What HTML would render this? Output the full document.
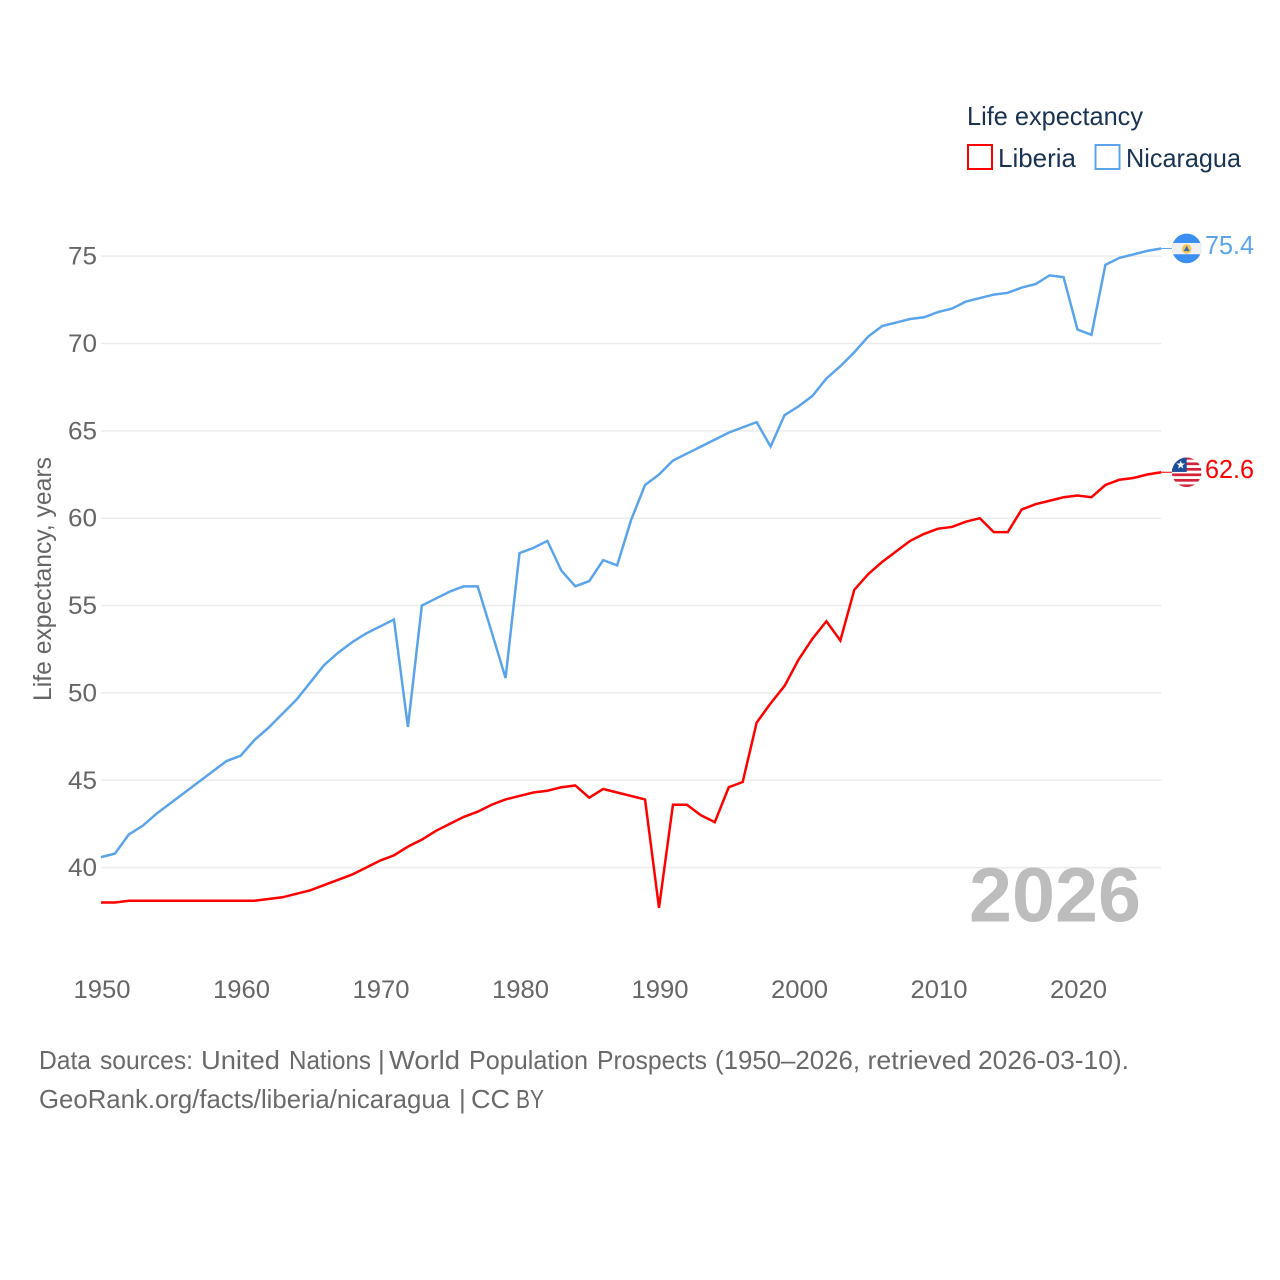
<!DOCTYPE html>
<html lang="en">
<head>
<meta charset="utf-8">
<title>Life expectancy: Liberia and Nicaragua</title>
<style>
html,body{margin:0;padding:0;background:#fff;}
svg{display:block;}
text{font-family:"Liberation Sans",sans-serif;}
</style>
</head>
<body>
<svg id="chart" xmlns="http://www.w3.org/2000/svg" width="1280" height="1280" viewBox="0 0 1280 1280">
  <rect width="1280" height="1280" fill="#ffffff"/>
  <g id="grid"></g>
  <g id="yticks"></g>
  <g id="xticks"></g>
  <text transform="translate(51,701) rotate(-90)" font-size="25" fill="#666666" textLength="244" lengthAdjust="spacingAndGlyphs">Life expectancy, years</text>
  <text x="969" y="921.500" font-size="77" font-weight="700" fill="#bdbdbd" textLength="172" lengthAdjust="spacingAndGlyphs">2026</text>
  <g id="series"></g>

  <defs>
    <clipPath id="clip-nic"><circle cx="1186.700" cy="248.500" r="14.800"/></clipPath>
    <clipPath id="clip-lib"><circle cx="1186.700" cy="472.300" r="14.800"/></clipPath>
  </defs>
  <g id="flag-nicaragua">
    <g clip-path="url(#clip-nic)">
      <rect x="1171" y="233" width="32" height="32" fill="#3a8ff0"/>
      <rect x="1171" y="243" width="32" height="11.300" fill="#f1f1f1"/>
      <circle cx="1186.700" cy="249" r="4.800" fill="#f2c65a"/>
      <polygon points="1186.700,245.800 1189.700,251.200 1183.700,251.200" fill="#3a6ea8"/>
    </g>
  </g>
  <g id="flag-liberia">
    <g clip-path="url(#clip-lib)">
      <rect x="1171" y="457" width="32" height="32" fill="#ffffff"/>
      <rect x="1171" y="457" width="32" height="2.700" fill="#d5213c"/>
      <rect x="1171" y="462.500" width="32" height="2.700" fill="#d5213c"/>
      <rect x="1171" y="468" width="32" height="2.700" fill="#d5213c"/>
      <rect x="1171" y="473.500" width="32" height="2.700" fill="#d5213c"/>
      <rect x="1171" y="479" width="32" height="2.700" fill="#d5213c"/>
      <rect x="1171" y="484.500" width="32" height="2.700" fill="#d5213c"/>
      <rect x="1171" y="457" width="15.700" height="15" fill="#1c4f9c"/>
      <polygon points="1180.700,460.500 1181.760,463.540 1184.980,463.610 1182.410,465.560 1183.350,468.640 1180.700,466.800 1178.050,468.640 1178.990,465.560 1176.420,463.610 1179.640,463.540" fill="#ffffff"/>
    </g>
  </g>
  <text id="label-nic" x="1205" y="254" font-size="26" fill="#5ba4ec" textLength="49" lengthAdjust="spacingAndGlyphs"></text>
  <text id="label-lib" x="1205" y="478" font-size="26" fill="#ff0000" textLength="49" lengthAdjust="spacingAndGlyphs"></text>

  <g>
    <text x="967" y="125" font-size="26" fill="#1a3353" textLength="176" lengthAdjust="spacingAndGlyphs">Life expectancy</text>
    <rect x="968" y="145" width="24" height="24" fill="#ffffff" stroke="#ff0000" stroke-width="2"/>
    <text x="998" y="167" font-size="26" fill="#1a3353" textLength="78" lengthAdjust="spacingAndGlyphs">Liberia</text>
    <rect x="1095.500" y="145" width="24" height="24" fill="#ffffff" stroke="#5ba4ec" stroke-width="2"/>
    <text x="1126" y="167" font-size="26" fill="#1a3353" textLength="115" lengthAdjust="spacingAndGlyphs">Nicaragua</text>
  </g>

  <g font-size="26" fill="#6a6a6a">
    <text x="39" y="1069" textLength="52" lengthAdjust="spacingAndGlyphs">Data</text>
    <text x="100" y="1069" textLength="93" lengthAdjust="spacingAndGlyphs">sources:</text>
    <text x="201" y="1069" textLength="79" lengthAdjust="spacingAndGlyphs">United</text>
    <text x="289" y="1069" textLength="82" lengthAdjust="spacingAndGlyphs">Nations</text>
    <text x="378" y="1069">|</text>
    <text x="389" y="1069" textLength="71" lengthAdjust="spacingAndGlyphs">World</text>
    <text x="469" y="1069" textLength="119" lengthAdjust="spacingAndGlyphs">Population</text>
    <text x="597" y="1069" textLength="110" lengthAdjust="spacingAndGlyphs">Prospects</text>
    <text x="715" y="1069" textLength="145" lengthAdjust="spacingAndGlyphs">(1950–2026,</text>
    <text x="867.500" y="1069" textLength="104" lengthAdjust="spacingAndGlyphs">retrieved</text>
    <text x="978" y="1069" textLength="151" lengthAdjust="spacingAndGlyphs">2026-03-10).</text>
  </g>
  <g font-size="26" fill="#6a6a6a">
    <text x="39" y="1108" textLength="411" lengthAdjust="spacingAndGlyphs">GeoRank.org/facts/liberia/nicaragua</text>
    <text x="459" y="1108">|</text>
    <text x="471" y="1108" textLength="39" lengthAdjust="spacingAndGlyphs">CC</text>
    <text x="516" y="1108" textLength="28" lengthAdjust="spacingAndGlyphs">BY</text>
  </g>
</svg>
<script>
const startYear = 1950;
const yTickValues = [40, 45, 50, 55, 60, 65, 70, 75];
const xTickValues = [1950, 1960, 1970, 1980, 1990, 2000, 2010, 2020];
const liberiaValues = [38.0,38.0,38.1,38.1,38.1,38.1,38.1,38.1,38.1,38.1,38.1,38.1,38.2,38.3,38.5,38.7,39.0,39.3,39.6,40.0,40.4,40.7,41.2,41.6,42.1,42.5,42.9,43.2,43.6,43.9,44.1,44.3,44.4,44.6,44.7,44.0,44.5,44.3,44.1,43.9,37.7,43.6,43.6,43.0,42.6,44.6,44.9,48.3,49.4,50.4,51.9,53.1,54.1,53.0,55.9,56.8,57.5,58.1,58.7,59.1,59.4,59.5,59.8,60.0,59.2,59.2,60.5,60.8,61.0,61.2,61.3,61.2,61.9,62.2,62.3,62.5,62.63];
const nicaraguaValues = [40.6,40.8,41.9,42.4,43.1,43.7,44.3,44.9,45.5,46.1,46.4,47.3,48.0,48.8,49.6,50.6,51.6,52.3,52.9,53.4,53.8,54.2,48.05,55.0,55.4,55.8,56.1,56.1,53.5,50.85,58.0,58.3,58.7,57.0,56.1,56.4,57.6,57.3,59.9,61.9,62.5,63.3,63.7,64.1,64.5,64.9,65.2,65.5,64.1,65.9,66.4,67.0,68.0,68.7,69.5,70.4,71.0,71.2,71.4,71.5,71.8,72.0,72.4,72.6,72.8,72.9,73.2,73.4,73.9,73.8,70.8,70.5,74.5,74.9,75.1,75.3,75.44];

const NS = 'http://www.w3.org/2000/svg';
const plotLeft = 101, plotRight = 1161.2;
function xScale(year) { return plotLeft + (year - startYear) * 13.95; }
function yScale(v) { return 867.6 - (v - 40) * 17.47; }

function make(tag, attrs, parent, txt) {
  const el = document.createElementNS(NS, tag);
  for (const k in attrs) el.setAttribute(k, attrs[k]);
  if (txt !== undefined) el.textContent = txt;
  parent.appendChild(el);
  return el;
}

const gridG = document.getElementById('grid');
const yG = document.getElementById('yticks');
yTickValues.forEach(function (v) {
  const line = make('line', {x1: plotLeft, x2: plotRight, y1: yScale(v), y2: yScale(v), stroke: '#ececec', 'stroke-width': 1.5}, gridG);
  
  
  const t = make('text', {x: 97, y: yScale(v) + 8.5, 'font-size': 25, fill: '#666666', 'text-anchor': 'end', textLength: 29, lengthAdjust: 'spacingAndGlyphs'}, yG, String(v));
  
  
});

const xG = document.getElementById('xticks');
xTickValues.forEach(function (yr) {
  const t = make('text', {x: xScale(yr) + 1, y: 998, 'font-size': 25, fill: '#666666', 'text-anchor': 'middle', textLength: 57, lengthAdjust: 'spacingAndGlyphs'}, xG, String(yr));
  
  
});

function linePoints(values) {
  return values.map(function (v, i) { return xScale(startYear + i).toFixed(2) + ',' + yScale(v).toFixed(2); }).join(' ');
}

const seriesG = document.getElementById('series');
const libLine = make('polyline', {points: linePoints(liberiaValues), fill: 'none', stroke: '#ff0000', 'stroke-width': 2.5, 'stroke-linejoin': 'miter'}, seriesG);


const nicLine = make('polyline', {points: linePoints(nicaraguaValues), fill: 'none', stroke: '#5ba4ec', 'stroke-width': 2.5, 'stroke-linejoin': 'miter'}, seriesG);



function placeEnd(values, color, labelId, flagId, baseY) {
  const v = values[values.length - 1];
  const y = yScale(v);
  const conn = make('line', {x1: plotRight, x2: 1172, y1: y, y2: y, stroke: color, 'stroke-width': 1}, seriesG);
  
  
  const label = document.getElementById(labelId);
  label.textContent = v.toFixed(1);
  label.setAttribute('y', (y + 5.5).toFixed(2));
  document.getElementById(flagId).setAttribute('transform', 'translate(0,' + (y - baseY).toFixed(2) + ')');
}
placeEnd(nicaraguaValues, '#5ba4ec', 'label-nic', 'flag-nicaragua', 248.5);
placeEnd(liberiaValues, '#ff0000', 'label-lib', 'flag-liberia', 472.3);
</script>
</body>
</html>
